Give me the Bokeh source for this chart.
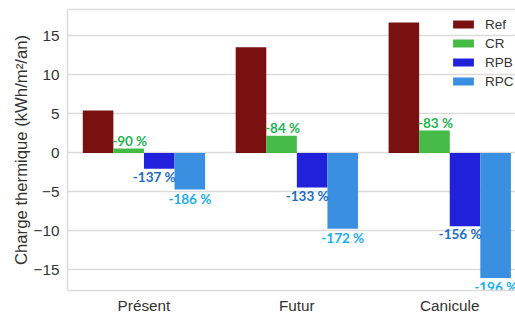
from bokeh.plotting import figure
from bokeh.models import (ColumnDataSource, FixedTicker, LinearAxis, Legend,
                          LegendItem, Range1d)
from bokeh.core.properties import value
from bokeh.embed import file_html
from bokeh.resources import INLINE

# ---- data ----
categories = ["Présent", "Futur", "Canicule"]
series = ["Ref", "CR", "RPB", "RPC"]
ref = [5.43, 13.56, 16.73]
cr = [0.55, 2.2, 2.86]
rpb = [-2.03, -4.45, -9.4]
rpc = [-4.7, -9.73, -16.04]
cr_labels = ["-90 %", "-84 %", "-83 %"]
rpb_labels = ["-137 %", "-133 %", "-156 %"]
rpc_labels = ["-186 %", "-172 %", "-196 %"]
y_ticks = [-15, -10, -5, 0, 5, 10, 15]

# ---- style ----
bar_colors = ["#7a1111", "#46ba46", "#2121dc", "#3b8fe1"]
offsets = [-0.3, -0.1, 0.1, 0.3]
grid_color = "#dcdcdc"
text_color = "#333333"
base_font = "Liberation Sans"
label_font = value("Lato")
label_size = "13.5px"

p = figure(width=515, height=316, output_backend="svg", toolbar_location=None,
           x_range=Range1d(-0.5, 2.43), y_range=Range1d(-17.66, 18.4),
           min_border_left=67, min_border_right=0, min_border_top=9,
           min_border_bottom=0)
p.outline_line_color = None
p.background_fill_color = "white"
p.border_fill_color = "white"

renderers = []
for name, vals, col, off in zip(series, [ref, cr, rpb, rpc], bar_colors, offsets):
    src = ColumnDataSource(dict(x=[i + off for i in range(len(categories))], top=vals))
    r = p.vbar(x="x", top="top", bottom=0, width=0.2, source=src,
               fill_color=col, line_color=None)
    renderers.append(r)

# percentage annotations
n = len(categories)
p.text(x=[i + offsets[1] for i in range(n)], y=cr, text=cr_labels,
       text_align="center", text_baseline="bottom", x_offset=1,
       text_font=label_font, text_font_style="bold", text_font_size=label_size,
       text_color="#1fb350")
p.text(x=[i + offsets[2] for i in range(n)], y=rpb, text=rpb_labels,
       text_align="center", text_baseline="top", x_offset=-5, y_offset=0,
       text_font=label_font, text_font_style="bold", text_font_size=label_size,
       text_color="#1b6ec2")
p.text(x=[i + offsets[3] for i in range(n)], y=rpc, text=rpc_labels,
       text_align="center", text_baseline="top", y_offset=1,
       text_font=label_font, text_font_style="bold", text_font_size=label_size,
       text_color="#1aaeef")

# axes
p.xaxis.ticker = FixedTicker(ticks=list(range(n)))
p.xaxis.major_label_overrides = {i: c for i, c in enumerate(categories)}
p.yaxis.ticker = FixedTicker(ticks=y_ticks)
p.yaxis.major_label_overrides = {t: str(t).replace("-", "\u2212") for t in y_ticks}

for ax in (p.xaxis, p.yaxis):
    ax.major_tick_line_color = None
    ax.minor_tick_line_color = None
    ax.major_tick_out = 0
    ax.major_tick_in = 0
    ax.minor_tick_out = 0
    ax.minor_tick_in = 0
    ax.axis_line_color = grid_color
    ax.axis_line_width = 1.5
    ax.major_label_text_font = base_font
    ax.major_label_text_font_size = "15.3px"
    ax.major_label_text_color = text_color

p.xaxis.major_label_standoff = 6
p.yaxis.major_label_standoff = 8
p.yaxis.axis_label = "Charge thermique (kWh/m²/an)"
p.yaxis.axis_label_text_font = base_font
p.yaxis.axis_label_text_font_size = "16.7px"
p.yaxis.axis_label_text_font_style = "normal"
p.yaxis.axis_label_text_color = text_color
p.yaxis.axis_label_standoff = 0

top_axis = LinearAxis(ticker=FixedTicker(ticks=[]), major_tick_out=0, major_tick_in=0,
                      minor_tick_out=0, minor_tick_in=0, major_label_standoff=0,
                      axis_line_color=grid_color, axis_line_width=1.5,
                      major_label_text_font_size="0px")
p.add_layout(top_axis, "above")

p.xgrid.grid_line_color = None
p.ygrid.grid_line_color = grid_color
p.ygrid.grid_line_width = 1.5

legend = Legend(items=[LegendItem(label=s, renderers=[r]) for s, r in zip(series, renderers)],
                location=(383, 199.5), orientation="vertical",
                glyph_width=26, glyph_height=10, label_height=19, spacing=0,
                padding=0, margin=0, label_standoff=9,
                border_line_color=None, background_fill_alpha=0,
                label_text_font=base_font, label_text_font_size="13.5px",
                label_text_color=text_color)
p.add_layout(legend)

open("out.html", "w").write(file_html(p, INLINE))
